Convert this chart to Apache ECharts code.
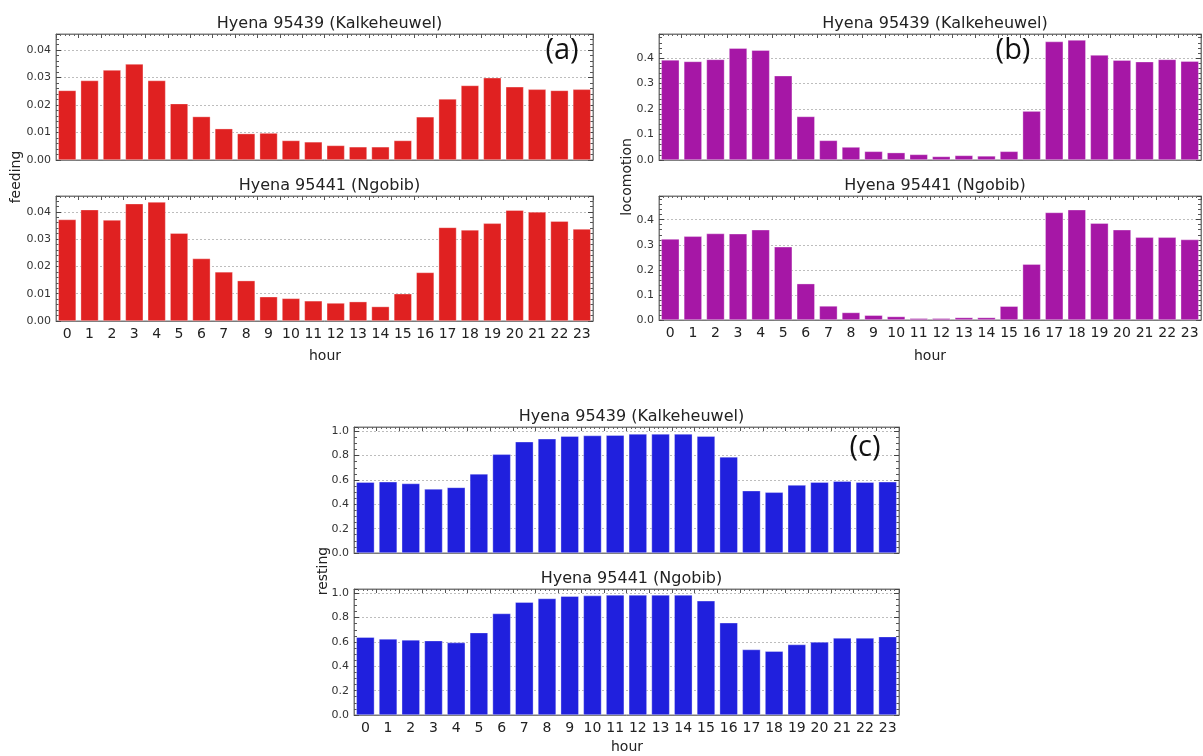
<!DOCTYPE html>
<html>
<head>
<meta charset="utf-8">
<script src="https://cdn.jsdelivr.net/npm/echarts@6/dist/echarts.min.js"></script>
<style>
  html, body { margin: 0; padding: 0; background: #fff; }
  #main { width: 1203px; height: 756px; }
</style>
</head>
<body>
<div id="main"></div>
<script>
const hours = ['0','1','2','3','4','5','6','7','8','9','10','11','12','13','14','15','16','17','18','19','20','21','22','23'];

// feeding
const feedKalk = [0.0253, 0.0289, 0.0327, 0.0349, 0.0289, 0.0205, 0.0158, 0.0114, 0.0096, 0.0098, 0.0071, 0.0066,
  0.0053, 0.0048, 0.0048, 0.0071, 0.0157, 0.0222, 0.0271, 0.0299, 0.0266, 0.0257, 0.0253, 0.0257];
const feedNgob = [0.0372, 0.0408, 0.0370, 0.0430, 0.0436, 0.0322, 0.0229, 0.0180, 0.0148, 0.0089, 0.0083, 0.0074,
  0.0066, 0.0071, 0.0053, 0.0100, 0.0178, 0.0343, 0.0334, 0.0358, 0.0406, 0.0400, 0.0366, 0.0337];

// locomotion
const locoKalk = [0.393, 0.387, 0.395, 0.439, 0.431, 0.331, 0.171, 0.077, 0.051, 0.034, 0.029, 0.022,
  0.014, 0.018, 0.016, 0.034, 0.192, 0.465, 0.471, 0.412, 0.392, 0.386, 0.395, 0.388];
const locoNgob = [0.323, 0.334, 0.345, 0.344, 0.360, 0.292, 0.145, 0.056, 0.030, 0.019, 0.014, 0.007,
  0.007, 0.010, 0.010, 0.055, 0.223, 0.429, 0.440, 0.386, 0.360, 0.330, 0.330, 0.321];

// resting
const restKalk = [0.582, 0.585, 0.571, 0.526, 0.539, 0.650, 0.811, 0.914, 0.938, 0.960, 0.965, 0.968,
  0.978, 0.978, 0.978, 0.960, 0.790, 0.512, 0.499, 0.558, 0.582, 0.590, 0.582, 0.585];
const restNgob = [0.639, 0.625, 0.617, 0.611, 0.595, 0.677, 0.834, 0.927, 0.957, 0.976, 0.981, 0.986,
  0.986, 0.986, 0.986, 0.938, 0.758, 0.538, 0.524, 0.579, 0.600, 0.633, 0.633, 0.644];

const titleKalk = 'Hyena 95439 (Kalkeheuwel)';
const titleNgob = 'Hyena 95441 (Ngobib)';

const FONT = 'DejaVu Sans';

// one entry per subplot
const panels = [
  { data: feedKalk, color: '#e02121', left: 56, right: 610, top: 34, height: 126, max: 0.0458, step: 0.01, minor: 5, dec: 2, title: titleKalk, showX: false },
  { data: feedNgob, color: '#e02121', left: 56, right: 610, top: 196, height: 125, max: 0.0458, step: 0.01, minor: 5, dec: 2, title: titleNgob, showX: true },
  { data: locoKalk, color: '#a617a6', left: 659, right: 2, top: 34, height: 126, max: 0.4946, step: 0.1, minor: 5, dec: 1, title: titleKalk, showX: false },
  { data: locoNgob, color: '#a617a6', left: 659, right: 2, top: 196, height: 124, max: 0.4946, step: 0.1, minor: 5, dec: 1, title: titleNgob, showX: true },
  { data: restKalk, color: '#2020dd', left: 354, right: 304, top: 427, height: 126, max: 1.035, step: 0.2, minor: 4, dec: 1, title: titleKalk, showX: false },
  { data: restNgob, color: '#2020dd', left: 354, right: 304, top: 589, height: 126, max: 1.035, step: 0.2, minor: 4, dec: 1, title: titleNgob, showX: true }
];

const frameColor = '#7a7a7a';

function renderPage() {
  const myChart = echarts.init(document.getElementById('main'));
  let grids = [], xAxes = [], topAxes = [], yAxes = [], rightAxes = [], series = [], titles = [];

  panels.forEach((p, i) => {
    grids.push({
      left: p.left, right: p.right, top: p.top, height: p.height,
      show: true, borderColor: frameColor, borderWidth: 1, backgroundColor: '#fff'
    });
    xAxes.push({
      type: 'category', gridIndex: i, data: hours, position: 'bottom',
      axisLine: { show: true, onZero: false, lineStyle: { color: frameColor } },
      axisTick: { show: false },
      axisLabel: { show: p.showX, fontFamily: FONT, fontSize: 14, color: '#222', margin: 6, interval: 0 },
      splitLine: { show: false }
    });
    topAxes.push({
      type: 'value', gridIndex: i, position: 'top', min: -0.5, max: 23.5, interval: 1,
      axisLine: { show: true, onZero: false, lineStyle: { color: frameColor } },
      axisTick: { show: true, inside: true, length: 4, lineStyle: { color: '#555' } },
      minorTick: { show: true, splitNumber: 5, length: 2, lineStyle: { color: '#666' } },
      axisLabel: { show: false },
      splitLine: { show: false }
    });
    yAxes.push({
      type: 'value', gridIndex: i, position: 'left', min: 0, max: p.max, interval: p.step,
      axisLine: { show: true, onZero: false, lineStyle: { color: frameColor } },
      axisTick: { show: true, inside: true, length: 5, lineStyle: { color: '#444' } },
      minorTick: { show: true, splitNumber: p.minor, length: 3, lineStyle: { color: '#555' } },
      axisLabel: {
        fontFamily: FONT, fontSize: 11, color: '#333', margin: 5, showMaxLabel: false,
        formatter: v => v.toFixed(p.dec)
      },
      splitLine: { show: true, lineStyle: { color: '#bdbdbd', type: [2, 2], width: 1 } }
    });
    rightAxes.push({
      type: 'value', gridIndex: i, position: 'right', min: 0, max: p.max, interval: p.step,
      axisLine: { show: true, onZero: false, lineStyle: { color: frameColor } },
      axisTick: { show: true, inside: true, length: 5, lineStyle: { color: '#444' } },
      minorTick: { show: true, splitNumber: p.minor, length: 3, lineStyle: { color: '#555' } },
      axisLabel: { show: false },
      splitLine: { show: false }
    });
    series.push({
      type: 'bar', xAxisIndex: i, yAxisIndex: i, data: p.data,
      barCategoryGap: '20%',
      itemStyle: { color: p.color, borderColor: 'rgba(255,255,255,0.55)', borderWidth: 0.6 },
      silent: true
    });
    const gridWidth = 1203 - p.left - p.right;
    titles.push({
      text: p.title,
      left: p.left + gridWidth / 2, top: p.top - 23, textAlign: 'center',
      textStyle: { fontFamily: FONT, fontSize: 16, fontWeight: 'normal', color: '#222' }
    });
  });

  const letters = [
    { t: '(a)', x: 562, y: 51 },
    { t: '(b)', x: 1013, y: 51 },
    { t: '(c)', x: 865, y: 448 }
  ];
  const names = [
    { t: 'feeding', x: 16, y: 177, rot: true },
    { t: 'locomotion', x: 627, y: 177, rot: true },
    { t: 'resting', x: 323, y: 571, rot: true },
    { t: 'hour', x: 325, y: 356, rot: false },
    { t: 'hour', x: 930, y: 356, rot: false },
    { t: 'hour', x: 627, y: 747, rot: false }
  ];
  let graphics = [];
  letters.forEach(l => graphics.push({
    type: 'text', x: l.x, y: l.y, z: 100,
    style: { text: l.t, fontFamily: 'Open Sans', fontSize: 29, fill: '#111', align: 'center', verticalAlign: 'middle' }
  }));
  names.forEach(n => graphics.push({
    type: 'text', x: n.x, y: n.y, rotation: n.rot ? Math.PI / 2 : 0,
    style: { text: n.t, fontFamily: FONT, fontSize: 14, fill: '#222', align: 'center', verticalAlign: 'middle' }
  }));

  const option = {
    animation: false,
    backgroundColor: '#fff',
    title: titles,
    grid: grids,
    xAxis: xAxes.concat(topAxes),
    yAxis: yAxes.concat(rightAxes),
    series: series,
    graphic: graphics
  };
  myChart.setOption(option, true);
}

window.onload = function () {
  renderPage();
}
</script>
</body>
</html>
